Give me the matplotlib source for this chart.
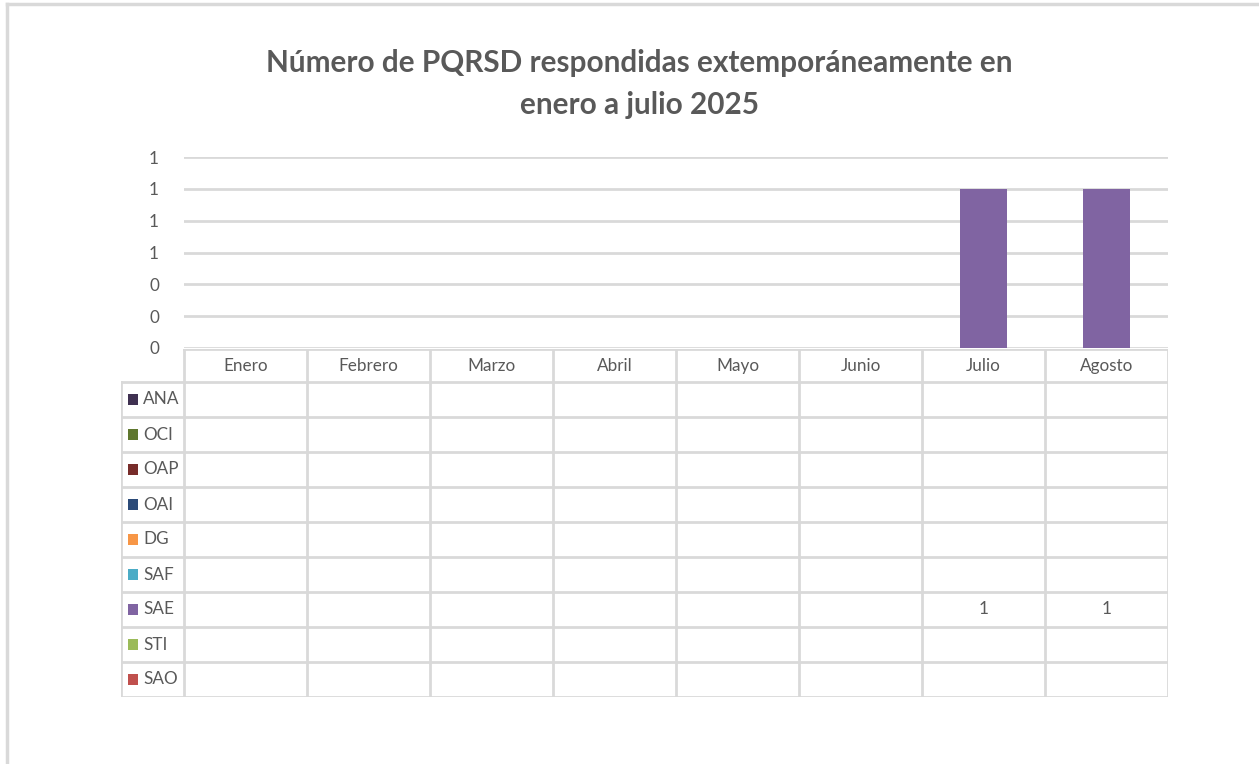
import numpy as np
import matplotlib
matplotlib.use("Agg")
import matplotlib.pyplot as plt
from matplotlib.lines import Line2D
from matplotlib.patches import Rectangle

plt.rcParams['font.family'] = ['Lato', 'DejaVu Sans']

# ---- data ----
months = ["Enero", "Febrero", "Marzo", "Abril", "Mayo", "Junio", "Julio", "Agosto"]
series_names = ["ANA", "OCI", "OAP", "OAI", "DG", "SAF", "SAE", "STI", "SAO"]
series_colors = ["#3f3151", "#5f772e", "#772c2a", "#2b4a78", "#f79646",
                 "#4bacc6", "#8064a2", "#9bbb59", "#c0504d"]
nan = np.nan
ana = [nan] * 8
oci = [nan] * 8
oap = [nan] * 8
oai = [nan] * 8
dg = [nan] * 8
saf = [nan] * 8
sae = [nan, nan, nan, nan, nan, nan, 1, 1]
sti = [nan] * 8
sao = [nan] * 8
series_values = [ana, oci, oap, oai, dg, saf, sae, sti, sao]

title = "Número de PQRSD respondidas extemporáneamente en\nenero a julio 2025"

# ---- figure geometry (pixels) ----
W, H = 1259, 764
TXT = "#595959"
GRID = "#d9d9d9"
FS = 12.3

fig = plt.figure(figsize=(W / 100, H / 100), dpi=100)
fig.patch.set_facecolor("white")


def fx(px):
    return px / W


def fy(py):
    return 1 - py / H


# outer frame (top and left edges)
fig.add_artist(Line2D([fx(7), fx(W)], [fy(4), fy(4)], color=GRID, lw=2.5))
fig.add_artist(Line2D([fx(7), fx(7)], [fy(4), fy(H)], color=GRID, lw=2.5))

# ---- title ----
fig.text(fx(639), fy(84), title, ha="center", va="center", fontsize=21.4,
         fontweight="bold", color=TXT, linespacing=1.6)

# ---- column chart ----
plot_l, plot_r, plot_t, plot_b = 184, 1168, 157, 348
ax = fig.add_axes([fx(plot_l), fy(plot_b), fx(plot_r - plot_l), (plot_b - plot_t) / H])
x = np.arange(len(months))
bottom = np.zeros(len(months))
for name, vals, col in zip(series_names, series_values, series_colors):
    v = np.nan_to_num(np.array(vals, dtype=float))
    ax.bar(x, v, width=0.39, bottom=bottom, color=col, label=name, zorder=3)
    bottom += v
ax.set_xlim(-0.5, len(months) - 0.5)
ax.set_ylim(0, 1.2)
yt = np.linspace(0, 1.2, 7)
ax.set_yticks(yt)
ax.set_yticklabels([f"{t:.0f}" for t in yt])
ax.yaxis.grid(True, color=GRID, lw=2, zorder=0)
ax.set_xticks([])
for s in ax.spines.values():
    s.set_visible(False)
ax.tick_params(axis="y", length=0, pad=18, labelsize=FS, labelcolor=TXT)
ax.set_facecolor("none")

# ---- data table ----
leg_l = 121
head_t, head_b = 349, 382
row_h = 35
n_rows = len(series_names)
tab_b = head_b + row_h * n_rows
col_w = (plot_r - plot_l) / len(months)
leg_units = (plot_l - leg_l) / col_w

tab = fig.add_axes([fx(leg_l), fy(tab_b), fx(plot_r - leg_l), (tab_b - head_t) / H])
tab.set_xlim(-0.5 - leg_units, len(months) - 0.5)
head_h = (head_b - head_t) / row_h
tab.set_ylim(n_rows, -head_h)
tab.axis("off")

lk = dict(color=GRID, lw=2, solid_capstyle="projecting")
x0, x1 = -0.5, len(months) - 0.5
xl = -0.5 - leg_units
# horizontal lines
tab.plot([x0, x1], [-head_h, -head_h], **lk)
for r in range(n_rows + 1):
    tab.plot([xl, x1], [r, r], **lk)
# vertical lines
tab.plot([xl, xl], [0, n_rows], **lk)
for c in range(len(months) + 1):
    tab.plot([x0 + c, x0 + c], [-head_h, n_rows], **lk)

for i, m in enumerate(months):
    tab.text(i, -head_h / 2 + 0.02, m, ha="center", va="center", fontsize=FS, color=TXT)

sq = 0.085
for r, (name, vals, col) in enumerate(zip(series_names, series_values, series_colors)):
    yc = r + 0.5
    tab.add_patch(Rectangle((xl + 0.055, yc - 0.15), sq, 0.30, color=col, lw=0))
    tab.text(xl + 0.18, yc, name, ha="left", va="center", fontsize=FS, color=TXT)
    for i, v in enumerate(vals):
        if not np.isnan(v):
            tab.text(i, yc, f"{v:.0f}", ha="center", va="center", fontsize=FS, color=TXT)

fig.savefig("out.png", dpi=100, facecolor="white")
